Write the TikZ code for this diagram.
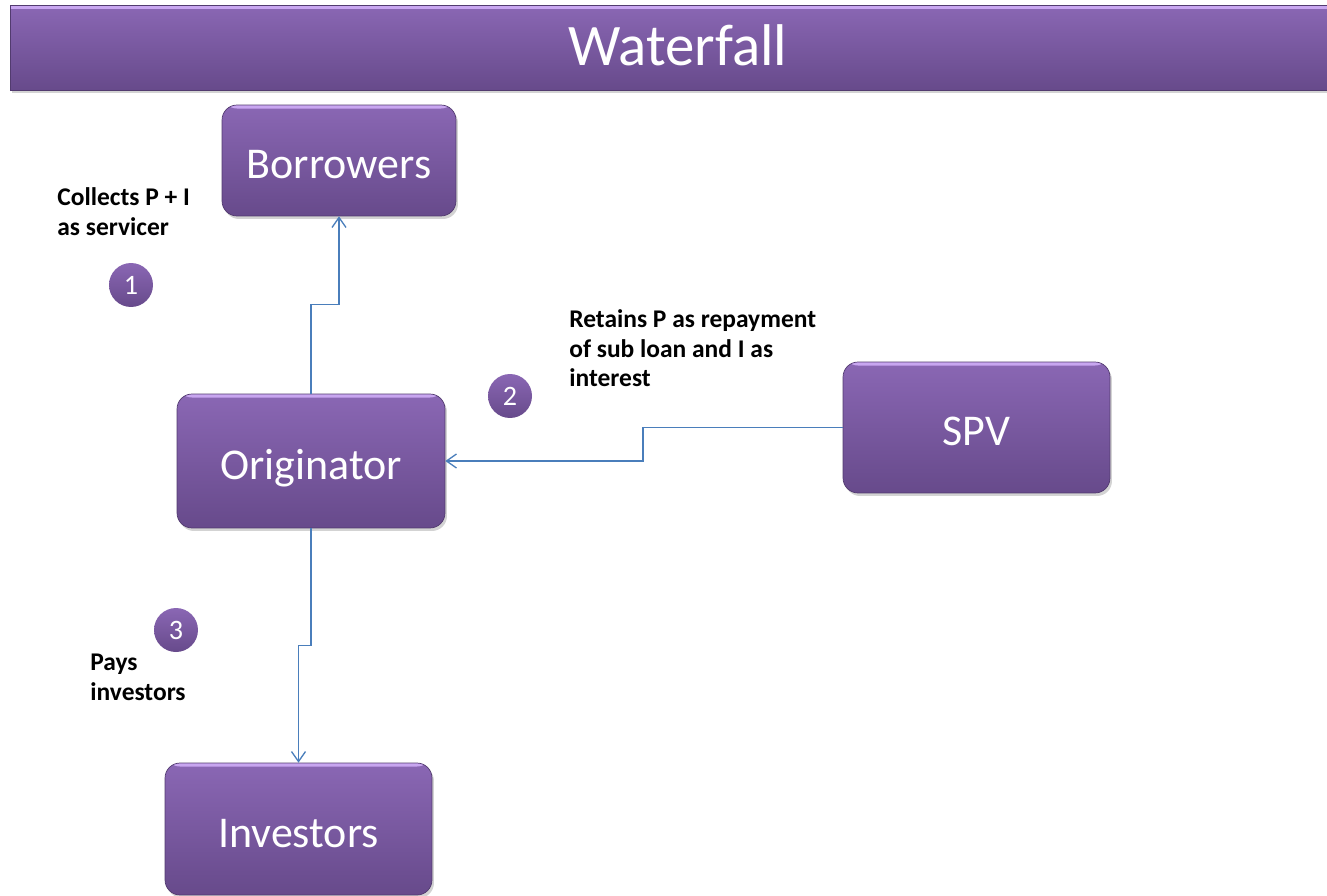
\documentclass[tikz,border=0pt]{standalone}
\usepackage{fontspec}
\setmainfont{Carlito}
\usetikzlibrary{arrows.meta,shadows}
\definecolor{plumtop}{HTML}{8A67B4}
\definecolor{plumbot}{HTML}{674A8B}
\definecolor{plumlight}{HTML}{C8A6F0}
\definecolor{flowblue}{HTML}{4A7EBB}
\tikzset{
  party/.style={rounded corners=0.3cm, top color=plumtop, bottom color=plumbot,
    draw=plumbot!80!black, line width=0.4pt, text=white,
    font=\fontsize{25}{30}\selectfont, text height=21pt, text depth=0pt,
    drop shadow={opacity=0.35, shadow xshift=0.04cm, shadow yshift=-0.06cm},
    path picture={\fill[plumlight] ([yshift=-0.07cm]path picture bounding box.north west)
      rectangle (path picture bounding box.north east);}},
  stepnum/.style={circle, minimum size=0.88cm, inner sep=0, top color=plumtop,
    bottom color=plumbot, text=white, font=\fontsize{16}{18}\selectfont},
  note/.style={anchor=north west, align=left, inner sep=0,
    font=\bfseries\fontsize{14.5}{17}\selectfont},
  flow/.style={draw=flowblue, line width=0.75pt,
    -{Straight Barb[length=0.2cm,width=0.28cm]}}
}
\begin{document}
\begin{tikzpicture}[x=0.02cm,y=-0.02cm]
\useasboundingbox (0,0) rectangle (1327,895);
\node[party, rounded corners=0pt, minimum width=26.72cm, minimum height=1.7cm,
  font=\fontsize{33.5}{40}\selectfont] (title) at (678,47.5) {Waterfall};
\node[party, minimum width=4.68cm, minimum height=2.22cm] (borr) at (339,160.5) {Borrowers};
\node[party, minimum width=5.36cm, minimum height=2.68cm] (orig) at (311,461) {Originator};
\node[party, minimum width=5.34cm, minimum height=2.62cm] (spv) at (976.5,427.5) {SPV};
\node[party, minimum width=5.34cm, minimum height=2.64cm] (inv) at (298.5,829) {Investors};
\node[stepnum] (one) at (131,285) {1};
\node[stepnum] (two) at (510,396) {2};
\node[stepnum] (three) at (176,630) {3};
\node[note] (collect) at (57,187) {Collects P + I\\as servicer};
\node[note] (retain) at (569,309) {Retains P as repayment\\of sub loan and I as\\interest};
\node[note] (pay) at (90,654) {Pays\\investors};
\draw[flow] (orig.north) -- ++(0,-89) -| (borr.south);
\draw[flow] (spv.west) -| (643,444) |- (orig.east);
\draw[flow] (orig.south) -- ++(0,117) -| (inv.north);
\end{tikzpicture}
\end{document}
